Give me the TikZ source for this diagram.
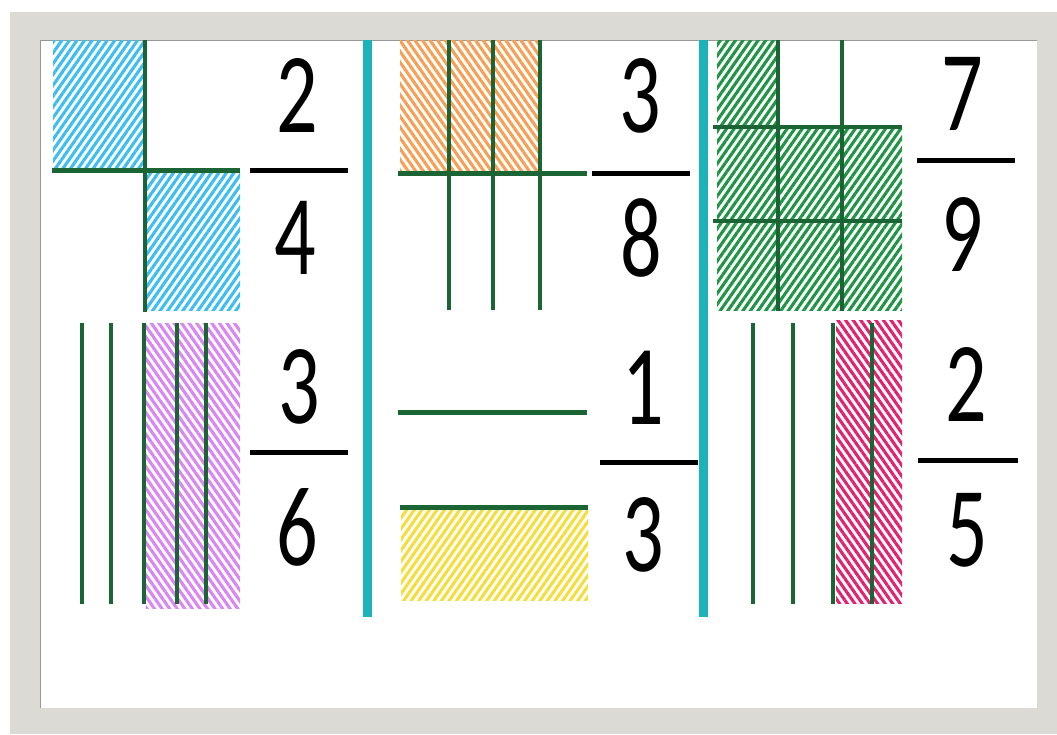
\documentclass[tikz,border=0pt]{standalone}
\usepackage{fontspec}
\setmainfont{Carlito}
\usetikzlibrary{patterns.meta}
\definecolor{framegray}{HTML}{DCDAD4}
\definecolor{linegreen}{HTML}{1B6534}
\definecolor{tealbar}{HTML}{1CB2B9}
\definecolor{hatchblue}{HTML}{3EBDF0}
\definecolor{hatchorange}{HTML}{F7A055}
\definecolor{hatchgreen}{HTML}{1E9444}
\definecolor{hatchviolet}{HTML}{D985F2}
\definecolor{hatchpink}{HTML}{E0226F}
\definecolor{hatchyellow}{HTML}{F5DE3C}

\begin{document}
\begin{tikzpicture}[
    x=1pt,y=-1pt,
    gridline/.style={draw=linegreen,line width=4pt},
    divider/.style={draw=tealbar,line width=9pt},
    fracbar/.style={draw=black,line width=5pt},
    digit/.style={font=\fontsize{114}{114}\selectfont,inner sep=0pt,xscale=0.72},
    hatchup/.style={pattern={Lines[angle=55,distance=6.2pt,line width=3.1pt]},pattern color=#1},
    hatchdown/.style={pattern={Lines[angle=-55,distance=6.2pt,line width=3.1pt]},pattern color=#1}
]
\useasboundingbox (0,0) rectangle (1057,734);
% frame and board
\fill[white] (0,0) rectangle (1057,734);
\fill[framegray] (10,12) rectangle (1057,734);
\fill[white] (40,40) rectangle (1037,708);
\draw[framegray!70!black,line width=1pt] (40,708) -- (40,40) -- (1037,40);
\draw[divider] (367,40) -- (367,617);
\draw[divider] (703,40) -- (703,617);

% 2/4
\begin{scope}
  \fill[hatchup=hatchblue] (53,40) rectangle (145,170);
  \fill[hatchup=hatchblue] (146,170) rectangle (240,310);
  \draw[gridline] (145,40) -- (145,312);
  \draw[gridline,line width=5pt] (52,170) -- (240,170);
  \node[digit] (n1) at (297,96) {2};
  \node[digit] (d1) at (295,238) {4};
  \draw[fracbar] (250,170) -- (348,170);
\end{scope}

% 3/6
\begin{scope}
  \fill[hatchdown=hatchviolet] (146,323) rectangle (240,608);
  \foreach \x in {82,111,144,177,206}
    \draw[gridline] (\x,323) -- (\x,604);
  \node[digit] (n2) at (299,387) {3};
  \node[digit] (d2) at (297,527) {6};
  \draw[fracbar] (250,452) -- (348,452);
\end{scope}

% 3/8
\begin{scope}
  \fill[hatchdown=hatchorange] (400,40) rectangle (539,170);
  \foreach \x in {449,493,540}
    \draw[gridline] (\x,40) -- (\x,310);
  \draw[gridline,line width=5pt] (398,173) -- (587,173);
  \node[digit] (n3) at (640,96) {3};
  \node[digit] (d3) at (641,238) {8};
  \draw[fracbar] (592,173) -- (690,173);
\end{scope}

% 1/3
\begin{scope}
  \fill[hatchup=hatchyellow] (401,508) rectangle (588,600);
  \draw[gridline,line width=5pt] (398,412) -- (587,412);
  \draw[gridline,line width=5pt] (400,507) -- (588,507);
  \node[digit] (n4) at (643,388) {1};
  \node[digit] (d4) at (643,535) {3};
  \draw[fracbar] (600,462) -- (698,462);
\end{scope}

% 7/9
\begin{scope}
  \fill[hatchup=hatchgreen] (717,40) rectangle (778,127);
  \fill[hatchup=hatchgreen] (717,127) rectangle (902,310);
  \foreach \x in {778,842}
    \draw[gridline] (\x,40) -- (\x,311);
  \foreach \y in {127,221}
    \draw[gridline] (713,\y) -- (902,\y);
  \node[digit] (n5) at (962,94) {7};
  \node[digit] (d5) at (962,235) {9};
  \draw[fracbar] (917,160) -- (1015,160);
\end{scope}

% 2/5
\begin{scope}
  \fill[hatchdown=hatchpink] (836,320) rectangle (902,603);
  \foreach \x in {753,793,833,872}
    \draw[gridline] (\x,323) -- (\x,604);
  \node[digit] (n6) at (966,385) {2};
  \node[digit] (d6) at (967,530) {5};
  \draw[fracbar] (918,460) -- (1018,460);
\end{scope}
\end{tikzpicture}
\end{document}
